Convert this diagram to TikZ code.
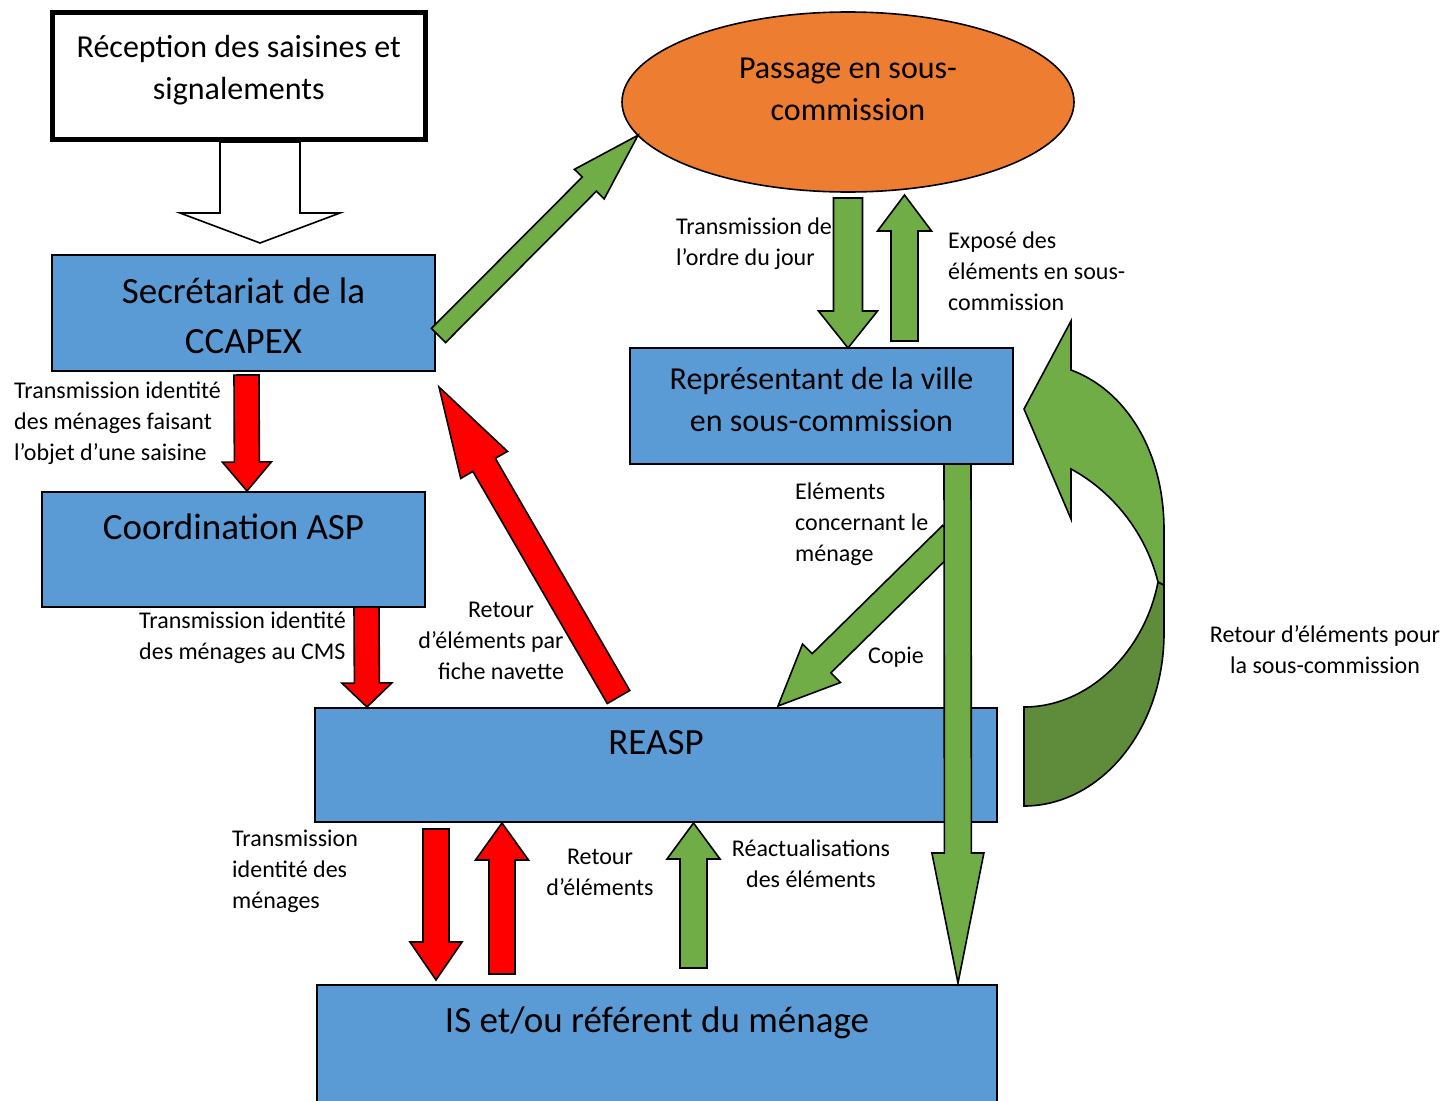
\documentclass[tikz,border=0pt]{standalone}
\usepackage{fontspec}
\setmainfont{Carlito}
\usepackage{tikz}
\usetikzlibrary{shapes.geometric, calc}
\definecolor{boxblue}{RGB}{91, 155, 213}
\definecolor{passorange}{RGB}{237, 125, 49}
\definecolor{arrowgreen}{RGB}{112, 173, 71}
\definecolor{backgreen}{RGB}{94, 140, 58}
\definecolor{arrowred}{RGB}{255, 0, 0}

% block arrow: [style]{tail}{tip}{half shaft}{half head}{head length}
\newcommand{\blockarrow}[6][]{%
  \coordinate (ba-s) at #2;
  \coordinate (ba-e) at #3;
  \coordinate (ba-n) at ($(ba-e)!#6pt!(ba-s)$);
  \draw[#1] ($(ba-s)!#4pt!90:(ba-e)$) -- ($(ba-n)!#4pt!90:(ba-e)$)
    -- ($(ba-n)!#5pt!90:(ba-e)$) -- (ba-e)
    -- ($(ba-n)!#5pt!-90:(ba-e)$) -- ($(ba-n)!#4pt!-90:(ba-e)$)
    -- ($(ba-s)!#4pt!-90:(ba-e)$) -- cycle;}

\begin{document}
\begin{tikzpicture}[
    x=1pt, y=-1pt,
    box/.style={rectangle, draw=black, line width=1.6pt, fill=boxblue, outer sep=0pt, inner sep=0pt},
    boxtxt/.style={anchor=center, align=center, inner sep=0pt, font=\fontsize{37}{50}\selectfont},
    midtxt/.style={anchor=center, align=center, inner sep=0pt, font=\fontsize{32}{42}\selectfont},
    lbl/.style={inner sep=0pt, align=left, font=\fontsize{24}{31}\selectfont},
    greenarrow/.style={draw=black, line width=1.6pt, fill=arrowgreen},
    redarrow/.style={draw=black, line width=1.6pt, fill=arrowred},
    hollowarrow/.style={draw=black, line width=1.6pt, fill=white},
]
    \clip (0,0) rectangle (1447,1100);

    % Reception
    \node[rectangle, draw=black, line width=5pt, fill=white, outer sep=0pt,
          minimum width=372.5pt, minimum height=127pt,
          label={[midtxt, yshift=-58]90:{Réception des saisines et\\signalements}}] (rec) at (238.75,76.1) {};

    % Passage en sous-commission
    \node[ellipse, draw=black, line width=1.6pt, fill=passorange, outer sep=0pt,
          minimum width=452pt, minimum height=180pt,
          label={[midtxt, yshift=-77.5]90:{Passage en sous-\\commission}}] (pass) at (848,102) {};

    % Boxes
    \node[box, minimum width=383pt, minimum height=116pt,
          label={[boxtxt, yshift=-60.5]90:{Secrétariat de la\\CCAPEX}}] (sec) at (243.5,313) {};
    \node[box, minimum width=383pt, minimum height=115pt,
          label={[boxtxt, yshift=-34.5]90:{Coordination ASP}}] (asp) at (233.5,549.5) {};
    \node[box, minimum width=383pt, minimum height=116pt,
          label={[midtxt, yshift=-52]90:{Représentant de la ville\\en sous-commission}}] (rep) at (821.5,406) {};
    \node[box, minimum width=682pt, minimum height=114pt,
          label={[boxtxt, yshift=-35]90:{REASP}}] (reasp) at (656,765) {};
    \node[box, minimum width=680pt, minimum height=130pt,
          label={[boxtxt, yshift=-38]90:{IS et/ou référent du ménage}}] (is) at (657,1050) {};

    % Arrows
    \blockarrow[hollowarrow]{($(rec.south)+(21.25,2.5)$)}{($(sec.north)+(16.5,-12)$)}{40}{80}{30}
    \blockarrow[greenarrow]{($(sec.east)+(3.5,22.5)$)}{(pass.189)}{10}{21}{69}
    \blockarrow[greenarrow]{($(pass.south)+(0,6)$)}{($(rep.north)+(26.5,0)$)}{14.5}{29.5}{37}
    \blockarrow[greenarrow]{($(rep.north)+(83,-7)$)}{($(pass.south)+(56.5,3)$)}{13.5}{27}{36}
    \blockarrow[redarrow]{($(sec.south)+(3,4)$)}{($(asp.north)+(13.5,-1)$)}{12.5}{24.5}{29}
    \blockarrow[redarrow]{($(asp.south)+(133,0)$)}{($(reasp.north west)+(52,-1)$)}{12.5}{25}{24}
    \blockarrow[redarrow]{($(reasp.north west)+(303.5,-11)$)}{($(sec.south east)+(4,16)$)}{13}{27}{90}

    % Copie
    \coordinate (copie) at (952,535);
    \blockarrow[greenarrow]{(copie)}{($(reasp.north west)+(463,-2)$)}{13.4}{27}{61}
    \blockarrow[greenarrow]{($(rep.south east)+(-55.5,0)$)}{($(is.north east)+(-39,-2)$)}{13.5}{26}{130}

    \blockarrow[redarrow]{($(reasp.south west)+(121,7)$)}{($(is.north west)+(119,-5)$)}{13}{26}{38}
    \blockarrow[redarrow]{($(is.north west)+(185,-11)$)}{($(reasp.south west)+(187,1)$)}{13}{26.5}{37}
    \blockarrow[greenarrow]{($(is.north west)+(376.5,-17)$)}{($(reasp.south west)+(378.5,1)$)}{13.5}{26.5}{36}

    % Curved arrow back to the sous-commission
    \draw[line width=1.6pt, fill=backgreen] (1158,582) .. controls (1145,650) and (1090,707) .. (1024,707)
        -- (1024,806) .. controls (1100,806) and (1164,730) .. (1164,633) -- (1164,585) -- cycle;
    \draw[line width=1.6pt, fill=arrowgreen] (1024,409) -- (1071,321) -- (1071,370)
        .. controls (1125,390) and (1164,450) .. (1164,530) -- (1164,585) -- (1158,582)
        .. controls (1145,530) and (1110,490) .. (1071,469) -- (1071,519) -- cycle;

    % Labels
    \node[lbl, anchor=west] (l-saisine) at (14,423.5) {Transmission identité\\des ménages faisant\\l’objet d’une saisine};
    \node[lbl, anchor=west] (l-cms) at (139,638) {Transmission identité\\des ménages au CMS};
    \node[lbl, align=center] (l-navette) at (501,640.5) {Retour\\d’éléments par\makebox[20pt]{}\\fiche navette};
    \node[lbl, anchor=west] (l-ordre) at (676,244) {Transmission de\\l’ordre du jour};
    \node[lbl, anchor=west] (l-expose) at (948,271.5) {Exposé des\\éléments en sous-\\commission};
    \node[lbl, anchor=west] (l-menage) at (795,524) {Eléments\\concernant le\\ménage};
    \node[lbl, anchor=west] (l-copie) at (868,657.5) {Copie};
    \node[lbl, align=center] (l-retour) at (1325,650) {Retour d’éléments pour\\la sous-commission};
    \node[lbl, anchor=west] (l-ident) at (232,871.5) {Transmission\\identité des\\ménages};
    \node[lbl, align=center] (l-elem) at (600,872.5) {Retour\\d’éléments};
    \node[lbl, align=center] (l-react) at (811,864) {Réactualisations\\des éléments};
\end{tikzpicture}
\end{document}
